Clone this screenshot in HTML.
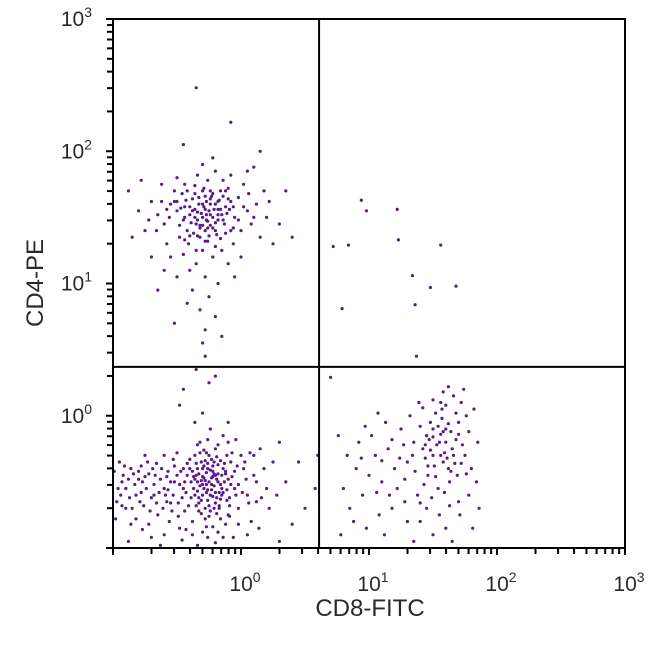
<!DOCTYPE html>
<html><head><meta charset="utf-8"><style>
html,body{margin:0;padding:0;background:#fff;}
svg{display:block;font-family:"Liberation Sans","DejaVu Sans",sans-serif;}
</style></head><body>
<svg id="chart" width="650" height="649" viewBox="0 0 650 649">
<rect x="0" y="0" width="650" height="649" fill="#fff"/>
<g id="dots"></g>
<g id="axes"></g>
</svg>
<script>
// log10 values of events, per population (pairs: CD8, CD4)
const dnCd8Cd4 = [
-0.35,-0.45,-0.30,-0.52,-0.22,-0.38,-0.15,-0.60,-0.28,-0.70,-0.40,-0.33,-0.12,-0.42,-0.05,-0.55,-0.33,-0.62,-0.19,-0.48,
-0.25,-0.30,-0.45,-0.55,-0.10,-0.75,-0.38,-0.80,-0.20,-0.25,-0.08,-0.35,-0.30,-0.40,-0.27,-0.58,-0.17,-0.68,-0.42,-0.45,
-0.55,-0.50,-0.62,-0.40,-0.70,-0.62,-0.80,-0.48,-0.90,-0.55,-0.95,-0.35,-0.85,-0.70,-0.75,-0.30,-0.65,-0.75,-0.58,-0.65,
-0.50,-0.28,-0.48,-0.85,-0.60,-0.90,-0.72,-0.82,-0.88,-0.95,-0.97,-0.65,-0.92,-0.45,-0.78,-0.58,-0.68,-0.52,-0.52,-0.38,
0.02,-0.40,0.05,-0.60,0.00,-0.30,-0.02,-0.70,0.10,-0.45,0.15,-0.25,0.08,-0.80,-0.04,-0.18,0.20,-0.55,0.25,-0.35,
-0.14,-0.15,-0.24,-0.10,-0.32,-0.20,-0.36,-0.05,-0.18,-0.88,-0.26,-0.92,-0.34,-0.98,-0.06,-0.92,-0.12,-0.82,-0.44,-0.72,
-0.21,-0.44,-0.29,-0.47,-0.23,-0.56,-0.16,-0.52,-0.31,-0.35,-0.26,-0.64,-0.37,-0.55,-0.13,-0.50,-0.09,-0.62,-0.20,-0.66,
-0.34,-0.50,-0.27,-0.43,-0.22,-0.61,-0.18,-0.37,-0.24,-0.72,-0.32,-0.28,-0.15,-0.45,-0.11,-0.30,-0.39,-0.62,-0.28,-0.78,
-0.47,-0.42,-0.53,-0.60,-0.58,-0.46,-0.64,-0.58,-0.72,-0.44,-0.78,-0.38,-0.83,-0.52,-0.87,-0.62,-0.93,-0.50,-0.98,-0.78,
-0.66,-0.36,-0.61,-0.70,-0.56,-0.80,-0.49,-0.66,-0.76,-0.68,-0.82,-0.78,-0.90,-0.70,-0.70,-0.92,-0.63,-0.98,-0.46,-0.94,
0.30,-0.20,0.35,-0.50,0.12,-0.65,0.18,-0.40,0.04,-0.48,-0.03,-0.38,0.07,-0.28,0.22,-0.70,0.28,-0.60,0.14,-0.85,
-0.19,-0.31,-0.25,-0.50,-0.29,-0.55,-0.33,-0.44,-0.21,-0.53,-0.17,-0.58,-0.14,-0.40,-0.26,-0.36,-0.36,-0.48,-0.23,-0.47,
-0.30,-0.60,-0.19,-0.74,-0.11,-0.56,-0.07,-0.46,-0.40,-0.40,-0.43,-0.58,-0.35,-0.68,-0.27,-0.84,-0.16,-0.78,-0.09,-0.68,
-0.52,-0.50,-0.57,-0.56,-0.60,-0.30,-0.67,-0.45,-0.74,-0.55,-0.80,-0.42,-0.86,-0.40,-0.94,-0.60,-0.99,-0.42,-0.77,-0.50,
0.45,-0.35,0.60,-0.30,0.30,-0.95,-0.10,-0.05,-0.48,0.08,-0.30,0.02,0.50,-0.70,0.58,-0.55,-0.20,-0.96,0.40,-0.82,
-0.25,0.25,-0.35,0.35,-0.28,0.45,-0.20,0.30,-0.45,0.20,
-0.24,-0.41,-0.31,-0.49,-0.20,-0.58,-0.28,-0.34,-0.16,-0.63,-0.34,-0.57,-0.22,-0.46,-0.13,-0.36,-0.38,-0.42,-0.25,-0.68,
-0.29,-0.26,-0.18,-0.44,-0.21,-0.70,-0.33,-0.66,-0.10,-0.48,-0.27,-0.52,-0.36,-0.30,-0.23,-0.33,-0.15,-0.55,-0.31,-0.74,
-0.26,-0.40,-0.32,-0.53,-0.18,-0.50,-0.24,-0.60,-0.29,-0.38,-0.21,-0.35,-0.36,-0.60,-0.14,-0.58,-0.30,-0.46,-0.23,-0.52,
-0.19,-0.62,-0.27,-0.28,-0.34,-0.40,-0.12,-0.44,-0.39,-0.50,-0.25,-0.76,-0.17,-0.70,-0.31,-0.64,-0.08,-0.52,-0.42,-0.36,
-0.28,-0.49,-0.22,-0.42,-0.35,-0.36,-0.16,-0.34,-0.26,-0.56,-0.20,-0.45,-0.33,-0.72,-0.11,-0.64,-0.44,-0.50,-0.37,-0.46,
-0.05,-0.42,-0.02,-0.52,0.03,-0.35,0.06,-0.66,0.10,-0.30,-0.04,-0.60,0.12,-0.50,0.01,-0.58,-0.07,-0.28,0.16,-0.62,
-0.60,-0.55,-0.68,-0.60,-0.75,-0.46,-0.82,-0.60,-0.88,-0.48,-0.93,-0.68,-0.71,-0.72,-0.63,-0.48,-0.57,-0.42,-0.84,-0.44,
-0.96,-0.55,-0.91,-0.38,-0.79,-0.65,-0.73,-0.35,-0.66,-0.66,-0.54,-0.72,-0.86,-0.82,-0.69,-0.40,-0.59,-0.60,-0.77,-0.86,
-0.50,-0.45,-0.46,-0.62,-0.53,-0.33,-0.48,-0.52,-0.41,-0.68,-0.45,-0.40,-0.55,-0.66,-0.49,-0.76,-0.43,-0.86,-0.38,-0.90,
-0.30,-0.88,-0.22,-0.84,-0.14,-0.92,-0.09,-0.76,-0.02,-0.82,0.05,-0.90,-0.34,-0.22,-0.26,-0.18,-0.18,-0.22,-0.10,-0.20
];
const cd4Cd8Cd4 = [
-0.30,1.50,-0.25,1.55,-0.35,1.45,-0.20,1.60,-0.40,1.58,-0.28,1.40,-0.15,1.52,-0.45,1.48,-0.33,1.65,-0.22,1.42,
-0.38,1.55,-0.27,1.62,-0.18,1.48,-0.32,1.35,-0.12,1.58,-0.42,1.40,-0.24,1.70,-0.36,1.68,-0.08,1.62,-0.50,1.55,
-0.55,1.60,-0.60,1.45,-0.48,1.35,-0.52,1.70,-0.65,1.52,-0.70,1.62,-0.58,1.30,-0.75,1.40,-0.80,1.55,-0.62,1.75,
-0.05,1.50,0.00,1.40,-0.02,1.65,0.05,1.55,-0.10,1.72,0.08,1.45,0.12,1.60,-0.06,1.30,0.15,1.35,0.02,1.75,
-0.30,1.25,-0.22,1.20,-0.35,1.15,-0.28,1.05,-0.40,1.10,-0.18,1.00,-0.25,0.90,-0.32,0.80,-0.20,0.75,-0.38,0.95,
-0.15,1.25,-0.45,1.22,-0.10,1.15,-0.50,1.05,-0.55,1.20,-0.60,1.10,-0.05,1.05,0.00,1.20,-0.42,0.85,-0.28,0.65,
-0.26,1.78,-0.34,1.82,-0.20,1.85,-0.14,1.78,-0.44,1.75,-0.30,1.90,-0.08,1.82,-0.50,1.80,0.05,1.85,-0.22,1.95,
-0.31,1.53,-0.26,1.47,-0.21,1.56,-0.36,1.50,-0.29,1.58,-0.24,1.44,-0.17,1.63,-0.39,1.46,-0.33,1.60,-0.27,1.52,
-0.19,1.37,-0.13,1.45,-0.43,1.63,-0.47,1.57,-0.23,1.66,-0.11,1.53,-0.37,1.38,-0.29,1.72,-0.16,1.70,-0.41,1.30,
0.20,1.50,0.25,1.30,0.18,1.70,0.30,1.45,-0.85,1.35,-0.88,1.70,-0.70,1.20,-0.78,1.78,0.10,1.88,0.22,1.62,
-0.35,2.48,-0.08,2.22,-0.45,2.05,0.15,2.00,0.40,1.35,-0.65,0.95,-0.30,0.55,-0.15,0.60,-0.52,0.70,0.35,1.70,
-0.28,1.32,-0.35,1.25,-0.20,1.28,-0.12,1.38,-0.06,1.42,-0.44,1.33,-0.25,1.36,-0.32,1.42,-0.18,1.52,-0.09,1.56,
-0.30,1.60,-0.24,1.52,-0.36,1.56,-0.20,1.46,-0.28,1.66,-0.34,1.48,-0.16,1.56,-0.40,1.52,-0.26,1.42,-0.22,1.68,
-0.32,1.44,-0.18,1.62,-0.38,1.64,-0.14,1.48,-0.44,1.58,-0.28,1.56,-0.24,1.60,-0.34,1.36,-0.10,1.64,-0.48,1.44,
-0.52,1.62,-0.46,1.68,-0.56,1.50,-0.42,1.70,-0.12,1.70,-0.06,1.58,-0.02,1.48,-0.08,1.40,-0.30,1.70,-0.36,1.74,
-0.26,1.32,-0.20,1.40,-0.16,1.34,-0.40,1.36,-0.22,1.50,-0.30,1.44,-0.18,1.56,-0.34,1.54,-0.27,1.48,-0.24,1.64,
-0.62,1.62,-0.66,1.40,-0.58,1.56,-0.72,1.48,0.02,1.58,0.06,1.68,0.10,1.50,-0.50,1.62,-0.14,1.66,-0.44,1.50
];
const cd8Cd8Cd4 = [
1.55,-0.20,1.60,-0.10,1.50,-0.30,1.65,-0.25,1.45,-0.15,1.70,-0.05,1.58,-0.35,1.48,-0.05,1.62,-0.40,1.52,0.02,
1.68,-0.18,1.42,-0.25,1.75,-0.30,1.57,0.05,1.63,-0.50,1.46,-0.45,1.72,0.10,1.54,-0.55,1.78,-0.12,1.40,-0.08,
1.80,-0.40,1.85,-0.20,1.82,0.05,1.66,0.15,1.58,0.18,1.50,0.12,1.74,0.20,1.62,0.22,1.35,-0.20,1.30,-0.35,
1.25,-0.10,1.20,-0.40,1.15,-0.25,1.10,-0.50,1.05,-0.30,1.00,-0.45,0.95,-0.60,0.90,-0.40,0.85,-0.70,0.80,-0.55,
1.38,-0.60,1.45,-0.70,1.55,-0.75,1.60,-0.85,1.70,-0.65,1.50,-0.90,1.65,-0.95,1.40,-0.80,1.78,-0.60,1.35,-0.95,
1.28,-0.65,1.18,-0.70,1.08,-0.75,0.98,-0.85,1.12,-0.90,0.88,-0.80,0.78,-0.90,1.22,-0.55,0.92,-0.20,1.02,-0.15,
1.53,-0.22,1.59,-0.28,1.47,-0.18,1.64,-0.12,1.56,-0.14,1.61,-0.32,1.51,-0.38,1.67,-0.36,1.44,-0.32,1.57,-0.02,
1.69,-0.45,1.43,-0.52,1.73,-0.22,1.49,-0.62,1.59,-0.58,1.36,-0.42,1.84,-0.50,1.76,0.00,1.32,0.00,1.27,-0.22,
1.13,-0.05,1.07,0.02,0.97,-0.08,0.83,-0.30,0.76,-0.15,1.39,0.10,1.71,-0.75,1.86,-0.70,1.81,-0.85,1.63,-0.68,
1.54,-0.08,1.60,-0.20,1.48,-0.26,1.66,-0.30,1.58,-0.12,1.50,-0.16,1.70,-0.14,1.44,-0.22,1.62,-0.06,1.56,-0.30,
1.52,-0.46,1.64,-0.42,1.72,-0.36,1.46,-0.38,1.68,0.02,1.42,0.06,1.76,-0.44,1.56,0.10,1.60,0.08,1.50,-0.10,
1.34,-0.30,1.28,-0.48,1.18,-0.18,1.24,-0.32,1.10,-0.34,1.06,-0.58,0.94,-0.32,1.16,-0.60,1.30,-0.80,1.40,-0.66
];
const dpCd8Cd4 = [
0.94,1.63,0.98,1.55,1.22,1.56,0.72,1.28,0.84,1.29,1.23,1.33,1.56,1.29,1.34,1.06,1.48,0.97,1.68,0.98,
0.79,0.81,1.36,0.84,1.37,0.45,0.70,0.29
];
const xTickExp = [0,1,2,3];
const yTickExp = [0,1,2,3];
const xGateLog = 0.61;
const yGateLog = 0.37;

const L=113,R=625,T=19,B=548;
const xMin=-1,xMax=3,yMin=-1,yMax=3;
const sx=v=>L+(v-xMin)/(xMax-xMin)*(R-L);
const sy=v=>B-(v-yMin)/(yMax-yMin)*(B-T);
const NS="http://www.w3.org/2000/svg";
const dots=document.getElementById('dots');
const axes=document.getElementById('axes');
function mk(tag,attrs,parent){const e=document.createElementNS(NS,tag);for(const k in attrs)e.setAttribute(k,attrs[k]);parent.appendChild(e);return e;}

function plotPop(arr,name){
  for(let i=0;i<arr.length;i+=2){
    const c=mk('circle',{cx:sx(arr[i]).toFixed(1),cy:sy(arr[i+1]).toFixed(1),r:1.6,fill:'#5a1a8c'},dots);
    
    
  }
}
plotPop(dnCd8Cd4,'event-double-negative');
plotPop(cd4Cd8Cd4,'event-cd4-positive');
plotPop(cd8Cd8Cd4,'event-cd8-positive');
plotPop(dpCd8Cd4,'event-double-positive');

const fr=mk('rect',{x:L,y:T,width:R-L,height:B-T,fill:'none',stroke:'#000','stroke-width':2},axes);


const gv=mk('line',{x1:sx(xGateLog),x2:sx(xGateLog),y1:T,y2:B,stroke:'#000','stroke-width':2},axes);


const gh=mk('line',{x1:L,x2:R,y1:sy(yGateLog),y2:sy(yGateLog),stroke:'#000','stroke-width':2},axes);



for(let d=xMin;d<xMax;d++){
  for(let m=1;m<=9;m++){
    const v=d+Math.log10(m); if(v<xMin) continue;
    const x=sx(v);
    const t=mk('line',{x1:x,x2:x,y1:B,y2:B+(m===1?7:6),stroke:'#000','stroke-width':2},axes);
    
    
    const y=sy(v);
    const t2=mk('line',{x1:L-(m===1?7:6),x2:L,y1:y,y2:y,stroke:'#000','stroke-width':2},axes);
    
    
  }
}
{const t=mk('line',{x1:R,x2:R,y1:B,y2:B+7,stroke:'#000','stroke-width':2},axes);


const t2=mk('line',{x1:L-7,x2:L,y1:T,y2:T,stroke:'#000','stroke-width':2},axes);

}

function label(x,y,e,anchor,name){
  const t=mk('text',{x:x,y:y,'font-size':21,'text-anchor':anchor,fill:'#2a2a2a'},axes);
  
  
  t.appendChild(document.createTextNode('10'));
  const s=mk('tspan',{dy:-9,'font-size':14},t);
  s.textContent=String(e);
}
xTickExp.forEach(e=>label(sx(e)+4,591,e,'middle','x-tick-label'));
yTickExp.forEach(e=>label(L-21,sy(e)+7,e,'end','y-tick-label'));

const xt=mk('text',{x:370,y:616,'font-size':24,'text-anchor':'middle',fill:'#2a2a2a'},axes);


xt.textContent='CD8-FITC';
const yt=mk('text',{x:0,y:0,'font-size':24,'text-anchor':'middle',fill:'#2a2a2a',transform:'translate(43,283) rotate(-90)'},axes);


yt.textContent='CD4-PE';
</script>
</body></html>
